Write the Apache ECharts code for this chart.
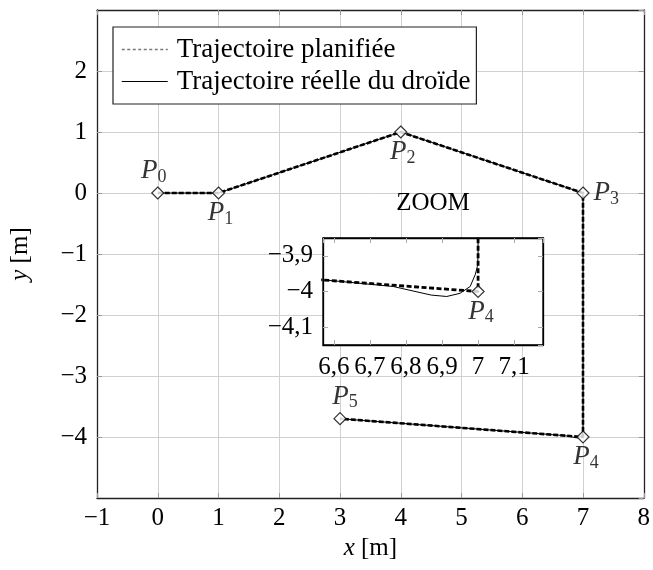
<!DOCTYPE html>
<html><head><meta charset="utf-8">
<script src="https://cdn.jsdelivr.net/npm/echarts@6/dist/echarts.min.js"></script>
<style>html,body{margin:0;padding:0;background:#fff}#c{width:653px;height:570px}</style>
</head><body><div id="c"></div>
<script>
// ---- data ----
const pointIds = ['0', '1', '2', '3', '4', '5'];
const plannedX = [0, 1, 4, 7, 7, 3];
const plannedY = [0, 0, 1, 0, -4, -3.7];
const actualX = [0, 1, 4, 7, 7, 6.998, 6.992, 6.978, 6.95, 6.913, 6.87, 6.839, 6.765, 6.6, 3];
const actualY = [0, 0, 1, 0, -3.9, -3.93, -3.953, -3.986, -4.005, -4.014, -4.01, -4.003, -3.986, -3.97, -3.7];
const insetPointIndex = 4; // P4 is shown in the zoom
const mainXRange = [-1, 8];
const mainYRange = [-5, 3];
const insetXRange = [6.57, 7.18];
const insetYRange = [-4.15, -3.85];
const seriesNames = ['Trajectoire planifiée', 'Trajectoire réelle du droïde'];
const insetTitle = 'ZOOM';

// ---- styling (not data) ----
const FONT = 'Liberation Serif';
const TICK_FS = 25;
const labelPos = {
  '0': { position: 'top', offset: [-4, 2] },
  '1': { position: 'bottom', offset: [2, -4] },
  '2': { position: 'bottom', offset: [2, -4] },
  '3': { position: 'right', offset: [0, 0] },
  '4': { position: 'bottom', offset: [3, -4] },
  '5': { position: 'top', offset: [5, 2] }
};
const fmtNum = v => {
  const r = Math.round(v * 10) / 10;
  return String(r).replace('.', ',').replace('-', '\u2212');
};
const pts = (xs, ys) => xs.map((x, i) => [x, ys[i]]);
const planned = pts(plannedX, plannedY);
const actual = pts(actualX, actualY);

const richP = {
  p: { fontFamily: FONT, fontSize: 27, fontStyle: 'italic', color: '#000', lineHeight: 27 },
  s: { fontFamily: FONT, fontSize: 18, color: '#000', padding: [12, 0, 0, 0], lineHeight: 17 }
};
const markerData = (idxs) => idxs.map(i => ({
  value: planned[i],
  name: pointIds[i],
  label: { show: true, position: labelPos[pointIds[i]].position, offset: labelPos[pointIds[i]].offset,
    distance: 4, formatter: '{p|P}{s|' + pointIds[i] + '}', rich: richP }
}));

const tickStyle = { fontFamily: FONT, fontSize: TICK_FS, color: '#000' };

const mainGrid = { left: 96, top: 10, width: 548, height: 488, show: false };
const insetGrid = { left: 323, top: 238, width: 220, height: 107, show: true, backgroundColor: '#fff',
  borderColor: '#000', borderWidth: 1.3, z: 20 };

const baseMainX = (pos, extra) => Object.assign({
  type: 'value', gridIndex: 0, position: pos, min: mainXRange[0], max: mainXRange[1], interval: 1,
  axisLine: { show: true, onZero: false, lineStyle: { color: '#222', width: 1.3 } },
  axisTick: { show: true, inside: true, length: 5, lineStyle: { color: '#999' } },
  axisLabel: { show: false }, splitLine: { show: false }
}, extra);
const baseMainY = (pos, extra) => Object.assign({
  type: 'value', gridIndex: 0, position: pos, min: mainYRange[0], max: mainYRange[1], interval: 1,
  axisLine: { show: true, onZero: false, lineStyle: { color: '#222', width: 1.3 } },
  axisTick: { show: true, inside: true, length: 5, lineStyle: { color: '#999' } },
  axisLabel: { show: false }, splitLine: { show: false }
}, extra);
const baseInsetX = (pos, extra) => Object.assign({
  type: 'value', gridIndex: 1, position: pos, min: insetXRange[0], max: insetXRange[1], splitNumber: 5, z: 21,
  axisLine: { show: true, onZero: false, lineStyle: { color: '#000', width: 1.3 } },
  axisTick: { show: true, inside: true, length: 5, lineStyle: { color: '#aaa' } },
  axisLabel: { show: false }, splitLine: { show: false }
}, extra);
const baseInsetY = (pos, extra) => Object.assign({
  type: 'value', gridIndex: 1, position: pos, min: insetYRange[0], max: insetYRange[1], splitNumber: 3, z: 21,
  axisLine: { show: true, onZero: false, lineStyle: { color: '#000', width: 1.3 } },
  axisTick: { show: true, inside: true, length: 5, lineStyle: { color: '#aaa' } },
  axisLabel: { show: false }, splitLine: { show: false }
}, extra);

const option = {
  animation: false,
  backgroundColor: '#fff',
  grid: [mainGrid, insetGrid],
  legend: {
    left: 113, top: 27, orient: 'vertical',
    data: [
      { name: seriesNames[0], itemStyle: { opacity: 0, borderWidth: 0 }, lineStyle: { color: '#777', width: 1.5, type: [3, 2.5] } },
      { name: seriesNames[1], itemStyle: { opacity: 0, borderWidth: 0 }, lineStyle: { color: '#000', width: 1, type: 'solid' } }
    ],
    itemWidth: 46, itemHeight: 14, itemGap: 3,
    padding: [8, 6, 8, 8],
    borderColor: '#222', borderWidth: 1.2, backgroundColor: '#fff',
    textStyle: { fontFamily: FONT, fontSize: 27, color: '#000', lineHeight: 29, padding: [0, 0, 0, 4] },
    selectedMode: false, z: 30
  },
  xAxis: [
    baseMainX('bottom', {
      name: '{i|x} [m]', nameLocation: 'middle', nameGap: 37,
      nameTextStyle: { fontFamily: FONT, fontSize: TICK_FS, color: '#000', rich: { i: { fontFamily: FONT, fontSize: TICK_FS, fontStyle: 'italic' } } },
      axisLabel: Object.assign({ show: true, margin: 8, formatter: fmtNum }, tickStyle),
      splitLine: { show: true, showMinLine: false, showMaxLine: false, lineStyle: { color: '#d0d0d0', width: 1 } }
    }),
    baseMainX('top'),
    baseInsetX('bottom', {
      axisLabel: Object.assign({ show: true, margin: 10, showMinLabel: false, showMaxLabel: false, formatter: fmtNum }, tickStyle)
    }),
    baseInsetX('top', {
      name: insetTitle, nameLocation: 'middle', nameGap: 22,
      nameTextStyle: { fontFamily: FONT, fontSize: TICK_FS, color: '#000' }
    })
  ],
  yAxis: [
    baseMainY('left', {
      name: '{i|y} [m]', nameLocation: 'middle', nameGap: 64,
      nameTextStyle: { fontFamily: FONT, fontSize: TICK_FS, color: '#000', rich: { i: { fontFamily: FONT, fontSize: TICK_FS, fontStyle: 'italic' } } },
      axisLabel: Object.assign({ show: true, margin: 10, showMinLabel: false, showMaxLabel: false, formatter: fmtNum }, tickStyle),
      splitLine: { show: true, showMinLine: false, showMaxLine: false, lineStyle: { color: '#d0d0d0', width: 1 } }
    }),
    baseMainY('right'),
    baseInsetY('left', {
      axisLabel: Object.assign({ show: true, margin: 10, showMinLabel: false, showMaxLabel: false, formatter: fmtNum }, tickStyle)
    }),
    baseInsetY('right')
  ],
  series: [
    { name: seriesNames[1], type: 'line', xAxisIndex: 0, yAxisIndex: 0, data: actual, symbol: 'none',
      itemStyle: { color: '#000' }, lineStyle: { color: '#000', width: 1 }, z: 3 },
    { name: seriesNames[0], type: 'line', xAxisIndex: 0, yAxisIndex: 0, data: planned, symbol: 'none',
      itemStyle: { color: '#000' }, lineStyle: { color: '#000', width: 2.6, type: [5, 2] }, z: 4 },
    { type: 'scatter', xAxisIndex: 0, yAxisIndex: 0, symbol: 'diamond', symbolSize: [12, 12],
      itemStyle: { color: '#fff', borderColor: '#000', borderWidth: 1.2 }, z: 5,
      data: markerData(pointIds.map((_, i) => i)) },
    { name: seriesNames[1], type: 'line', xAxisIndex: 2, yAxisIndex: 2, data: actual, symbol: 'none', clip: true,
      itemStyle: { color: '#000' }, lineStyle: { color: '#000', width: 1 }, z: 22 },
    { name: seriesNames[0], type: 'line', xAxisIndex: 2, yAxisIndex: 2, data: planned, symbol: 'none', clip: true,
      itemStyle: { color: '#000' }, lineStyle: { color: '#000', width: 2.8, type: [5, 2.5] }, z: 23 },
    { type: 'scatter', xAxisIndex: 2, yAxisIndex: 2, symbol: 'diamond', symbolSize: [12, 12],
      itemStyle: { color: '#fff', borderColor: '#000', borderWidth: 1.2 }, z: 24,
      data: markerData([insetPointIndex]) }
  ]
};
const chart = echarts.init(document.getElementById('c'), null, { renderer: 'canvas' });
chart.setOption(option);
</script></body></html>
